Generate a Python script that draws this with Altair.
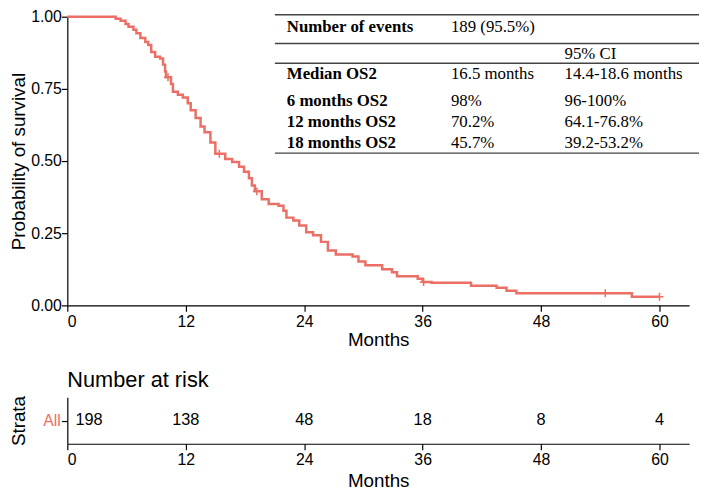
import altair as alt
import pandas as pd

# ---- Kaplan-Meier curve ----
km_time = [0, 4.9, 5.4, 5.9, 6.2, 6.7, 7.0, 7.4, 7.9, 8.2, 8.5, 8.9, 9.4, 9.7, 9.9, 10.0, 10.5, 10.7, 11.2, 11.7,
           12.2, 12.5, 13.0, 13.5, 13.9, 14.5, 15.0, 16.0, 16.7, 17.4, 17.9, 18.4, 18.7, 19.0, 19.7, 20.4, 21.4, 21.9, 22.2, 22.9,
           23.5, 24.2, 24.9, 25.7, 26.4, 27.2, 28.9, 29.5, 30.2, 31.9, 32.9, 33.4, 35.5, 36.0, 36.9, 40.9, 43.5, 44.5, 45.5, 57.2,
           60.0]
km_surv = [1.0, 0.993, 0.986, 0.975, 0.965, 0.955, 0.943, 0.926, 0.912, 0.902, 0.878, 0.861, 0.855, 0.834, 0.81, 0.79, 0.767, 0.74, 0.73, 0.72,
           0.70, 0.676, 0.649, 0.62, 0.60, 0.564, 0.525, 0.507, 0.497, 0.48, 0.463, 0.44, 0.415, 0.395, 0.368, 0.351, 0.345, 0.328, 0.304, 0.294,
           0.277, 0.253, 0.243, 0.22, 0.19, 0.176, 0.169, 0.152, 0.139, 0.125, 0.115, 0.101, 0.092, 0.081, 0.078, 0.068, 0.061, 0.051, 0.042, 0.030,
           0.030]
censor_time = [10.2, 15.4, 19.2, 36.1, 54.5, 60.0]
censor_surv = [0.79, 0.525, 0.395, 0.081, 0.042, 0.030]

x_ticks = [0, 12, 24, 36, 48, 60]
y_ticks = [0, 0.25, 0.5, 0.75, 1.0]

# ---- Number at risk ----
risk_time = [0, 12, 24, 36, 48, 60]
risk_n = [198, 138, 48, 18, 8, 4]
strata_name = "All"

# ---- Summary table ----
table_label = ["Number of events", "", "Median OS2", "6 months OS2", "12 months OS2", "18 months OS2"]
table_value = ["189 (95.5%)", "", "16.5 months", "98%", "70.2%", "45.7%"]
table_ci = ["", "95% CI", "14.4-18.6 months", "96-100%", "64.1-76.8%", "39.2-53.2%"]

# layout (pixels, relative to plot area)
row_y = [10, 38, 58, 85, 107, 128]
col_x = [222, 388, 503]
rule_y = [-2, 27, 47, 138]
rule_x = (210, 639)

RED = "#EC6F66"
FONT = "Liberation Sans"
SERIF = "Liberation Serif"

km_df = pd.DataFrame({"time": km_time, "surv": km_surv})
cens_df = pd.DataFrame({"time": censor_time, "surv": censor_surv})

cells = []
for i in range(len(table_label)):
    for j, col in enumerate([table_label, table_value, table_ci]):
        if col[i]:
            cells.append({"px": col_x[j], "py": row_y[i], "text": col[i], "col": j})
cell_df = pd.DataFrame(cells)
rule_df = pd.DataFrame({"x1": [rule_x[0]] * len(rule_y), "x2": [rule_x[1]] * len(rule_y), "y": rule_y})

xscale = alt.Scale(domain=[0, 63], nice=False, zero=False)
yscale = alt.Scale(domain=[0, 1], nice=False)

curve = alt.Chart(km_df).mark_line(interpolate="step-after", color=RED, strokeWidth=2.5).encode(
    x=alt.X("time:Q", scale=xscale,
            axis=alt.Axis(values=x_ticks, title="Months", labelPadding=2, titlePadding=2)),
    y=alt.Y("surv:Q", scale=yscale,
            axis=alt.Axis(values=y_ticks, format=".2f", title="Probability of survival",
                          labelPadding=0, titlePadding=2)),
)
cens = alt.Chart(cens_df).mark_point(shape="M-1,0L1,0M0,-1L0,1", size=64, filled=False,
                                     strokeWidth=1.5, color=RED, opacity=1).encode(
    x=alt.X("time:Q", scale=xscale, axis=None),
    y=alt.Y("surv:Q", scale=yscale, axis=None),
)

rules = alt.Chart(rule_df).mark_rule(color="#444444", strokeWidth=1.5).encode(
    x=alt.X("x1:Q", scale=None, axis=None),
    x2="x2:Q",
    y=alt.Y("y:Q", scale=None, axis=None),
)
txt_bold = alt.Chart(cell_df).transform_filter("datum.col == 0").mark_text(
    align="left", baseline="middle", font=SERIF, fontSize=17, fontWeight="bold", color="black").encode(
    x=alt.X("px:Q", scale=None, axis=None),
    y=alt.Y("py:Q", scale=None, axis=None),
    text="text:N",
)
txt_norm = alt.Chart(cell_df).transform_filter("datum.col > 0").mark_text(
    align="left", baseline="middle", font=SERIF, fontSize=17, color="black").encode(
    x=alt.X("px:Q", scale=None, axis=None),
    y=alt.Y("py:Q", scale=None, axis=None),
    text="text:N",
)

main = alt.layer(curve, cens, rules, txt_bold, txt_norm).resolve_scale(
    x="independent", y="independent").properties(width=629, height=292)

risk_df = pd.DataFrame({"time": risk_time, "n": risk_n, "strata": [strata_name] * len(risk_time)})
rx = alt.X("time:Q", scale=xscale, axis=alt.Axis(values=x_ticks, title="Months", labelPadding=2, titlePadding=4))
ry = alt.Y("strata:N", axis=alt.Axis(title="Strata", labelColor=RED, labelPadding=1, titlePadding=15))
risk0 = alt.Chart(risk_df).transform_filter("datum.time == 0").mark_text(
    dx=22, font=FONT, fontSize=16.5, color="black", baseline="middle").encode(x=rx, y=ry, text="n:Q")
riskr = alt.Chart(risk_df).transform_filter("datum.time > 0").mark_text(
    font=FONT, fontSize=16.5, color="black", baseline="middle").encode(x=rx, y=ry, text="n:Q")
risk = alt.layer(risk0, riskr).properties(
    width=629, height=47,
    title=alt.TitleParams("Number at risk", anchor="start", frame="group", fontSize=22, fontWeight="normal",
                          font=FONT, color="black", offset=4),
)

chart = alt.vconcat(main, risk, spacing=17).properties(
    padding={"left": 0, "top": -3, "right": 0, "bottom": 0}
).configure_axis(
    grid=False, domainColor="black", tickColor="black", labelColor="black", titleColor="black",
    labelFont=FONT, titleFont=FONT, labelFontSize=16, titleFontSize=19, titleFontWeight="normal",
    tickSize=6, domainWidth=1.2, tickWidth=1.2,
).configure_view(stroke="transparent")

chart.save("out.html", embed_options={"renderer": "svg", "actions": False})
